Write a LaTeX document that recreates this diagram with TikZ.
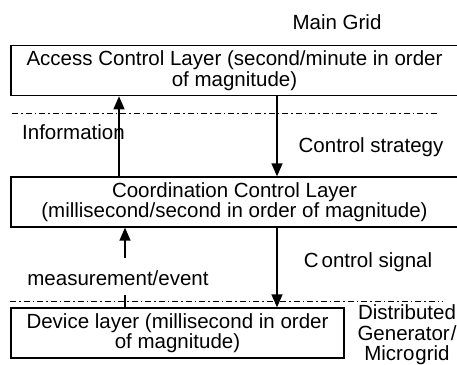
\documentclass[tikz,border=0pt]{standalone}
\usepackage{fontspec}
\setmainfont{Liberation Sans}
\usetikzlibrary{arrows.meta}
\begin{document}
\begin{tikzpicture}[x=1pt,y=-1pt,
  txt/.style={font=\fontsize{20.5}{20.5}\selectfont, inner sep=0pt, align=center},
  layerbox/.style={draw, line width=1.4pt, inner sep=0pt, align=center,
    font=\fontsize{20.5}{20.5}\selectfont},
  arr/.style={line width=1.5pt, -{Triangle[width=11pt,length=13pt]}},
  plain/.style={line width=1.5pt},
  sep/.style={line width=0.9pt, dash pattern=on 6pt off 3pt on 1.5pt off 3pt}]
\useasboundingbox (0,0) rectangle (457,364);
% boxes
\node[layerbox, minimum width=447pt, minimum height=50pt] (top) at (234.5,70.6)
  {Access Control Layer (second/minute in order\\of magnitude)};
\node[layerbox, minimum width=447pt, minimum height=50pt] (mid) at (234.5,202)
  {Coordination Control Layer\\(millisecond/second in order of magnitude)};
\node[layerbox, minimum width=333pt, minimum height=50pt] (dev) at (177.5,333)
  {Device layer (millisecond in order\\of magnitude)};
% separators
\coordinate (s1a) at (12,113);
\coordinate (s1b) at (437,113);
\coordinate (s2a) at (10,301);
\coordinate (s2b) at (443,301);
\draw[sep] (s1a) -- (s1b);
\draw[sep] (s2a) -- (s2b);
% labels
\node[txt] (grid) at (337,22) {Main Grid};
\node[txt, anchor=west] (info) at (22,132) {Information};
\node[txt] (cstrat) at (371,147) {Control strategy};
\node[txt] (csig) at (368,262) {C\kern3pt ontrol signal};
\node[txt] (meas) at (118,278) {measurement/event};
\node[txt] (dg) at (407,335) {Distributed\\Generator\kern1pt/\\Micro\kern1pt grid};
% connectors
\coordinate (xa) at (119,0);
\coordinate (xb) at (277,0);
\coordinate (xc) at (125,0);
\draw[arr] (mid.north -| xa) -- (top.south -| xa);
\draw[arr] (top.south -| xb) -- (mid.north -| xb);
\coordinate (m1) at (125,295);
\coordinate (m2) at (125,258);
\draw[plain] (dev.north -| xc) -- (m1);
\draw[arr] (m2) -- (mid.south -| xc);
\draw[arr] (mid.south -| xb) -- (dev.north -| xb);
\end{tikzpicture}
\end{document}
